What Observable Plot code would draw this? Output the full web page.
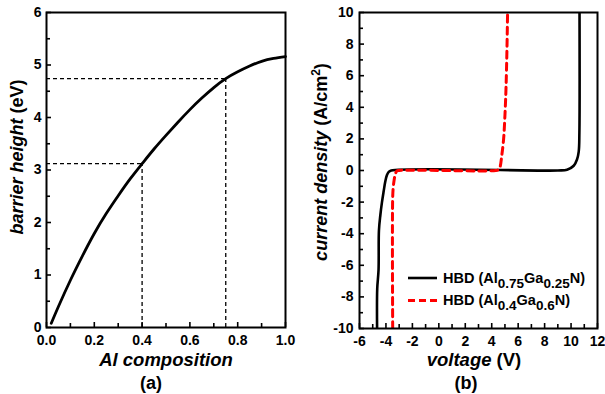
<!DOCTYPE html>
<html><head><meta charset="utf-8">
<script src="https://cdn.jsdelivr.net/npm/d3@7"></script>
<script src="https://cdn.jsdelivr.net/npm/@observablehq/plot@0.6"></script>
<style>
body{margin:0;background:#fff;}
#wrap{position:relative;width:605px;height:394px;display:flex;}
svg{display:block;overflow:visible}
</style></head><body><div id="wrap"></div>
<script>
// ---- Panel (a): barrier height vs Al composition ----
const alComp  = [0.02,0.05,0.10,0.15,0.20,0.25,0.30,0.35,0.40,0.45,0.50,0.55,0.60,0.65,0.70,0.75,0.80,0.85,0.90,0.95,1.00];
const barrier = [0.08,0.40,0.90,1.36,1.79,2.17,2.51,2.83,3.12,3.40,3.66,3.91,4.15,4.37,4.57,4.74,4.87,4.98,5.07,5.125,5.16];
const guideX = [0.40, 0.75];
const guideY = [3.12, 4.74];
const aXTicks = [0,0.2,0.4,0.6,0.8,1.0];
const aXMinor = [0.1,0.3,0.5,0.7,0.9];
const aYTicks = [0,1,2,3,4,5,6];
const aYMinor = [0.5,1.5,2.5,3.5,4.5,5.5];

// ---- Panel (b): current density vs voltage ----
const vBlack = [-4.67,-4.66,-4.56,-4.53,-4.42,-4.30,-4.17,-4.05,-3.93,-3.80,-3.60,9.0,9.7,10.2,10.45,10.58,10.63,10.64];
const jBlack = [-10,-7.5,-6.3,-3.8,-2.8,-2.0,-1.3,-0.7,-0.3,-0.1,0,0,0.05,0.3,0.7,1.2,2.4,10];
const vRed = [-3.49,-3.49,-3.44,-3.38,-3.30,-3.18,-3.0,4.3,4.5,4.62,4.76,4.9,5.0,5.08,5.15,5.2];
const jRed = [-10,-1.7,-1.0,-0.6,-0.25,-0.04,0,0,0.05,0.2,0.95,2.0,3.5,5.2,7.6,10];
const bXTicks = [-6,-4,-2,0,2,4,6,8,10,12];
const bXMinor = [-5,-3,-1,1,3,5,7,9,11];
const bYTicks = [-10,-8,-6,-4,-2,0,2,4,6,8,10];
const bYMinor = [-9,-7,-5,-3,-1,1,3,5,7,9];

const FONT = "'Liberation Sans', Arial, sans-serif";
const baseStyle = {fontFamily: FONT, fontSize: "14px", fontWeight: "bold", color: "#000", background: "#fff", overflow: "visible"};
const fmtInt = d => String(d);

const aData = alComp.map((x, i) => ({x, y: barrier[i]}));
const guides = guideX.map((x, i) => ({x, y: guideY[i]}));

const plotA = Plot.plot({
  width: 302, height: 394,
  marginLeft: 46, marginRight: 17, marginTop: 12, marginBottom: 67,
  x: {domain: [aXTicks[0], aXTicks[aXTicks.length - 1]]},
  y: {domain: [aYTicks[0], aYTicks[aYTicks.length - 1]]},
  style: baseStyle,
  marks: [
    Plot.ruleY(guides, {y: "y", x1: () => aXTicks[0], x2: "x", stroke: "#000", strokeWidth: 1.3, strokeDasharray: "4,3"}),
    Plot.ruleX(guides, {x: "x", y1: () => aYTicks[0], y2: "y", stroke: "#000", strokeWidth: 1.3, strokeDasharray: "4,3"}),
    Plot.line(aData, {x: "x", y: "y", curve: "natural", stroke: "#000", strokeWidth: 2.8}),
    Plot.axisX(aXTicks, {tickSize: -5, fill: "none", strokeWidth: 1.6}),
    Plot.axisX(aXMinor, {tickSize: -4, fill: "none", strokeWidth: 1.6}),
    Plot.axisX(aXTicks, {tickSize: 0, tickPadding: 8, tickFormat: d3.format(".1f"), label: null}),
    Plot.axisY(aYTicks, {tickSize: -5, fill: "none", strokeWidth: 1.6}),
    Plot.axisY(aYMinor, {tickSize: -4, fill: "none", strokeWidth: 1.6}),
    Plot.axisY(aYTicks, {tickSize: 0, tickPadding: 5, tickFormat: fmtInt, label: null}),
    Plot.frame({stroke: "#000", strokeWidth: 2})
  ]
});

const plotB = Plot.plot({
  width: 303, height: 394,
  marginLeft: 57, marginRight: 8, marginTop: 12, marginBottom: 66,
  x: {domain: [bXTicks[0], bXTicks[bXTicks.length - 1]]},
  y: {domain: [bYTicks[0], bYTicks[bYTicks.length - 1]]},
  style: baseStyle,
  marks: [
    Plot.line(vBlack.map((v, i) => ({v, j: jBlack[i]})), {x: "v", y: "j", curve: "catmull-rom", stroke: "#000", strokeWidth: 2.6, clip: true}),
    Plot.line(vRed.map((v, i) => ({v, j: jRed[i]})), {x: "v", y: "j", curve: "catmull-rom", stroke: "#f00", strokeWidth: 3, strokeDasharray: "7,5", clip: true}),
    Plot.axisX(bXTicks, {tickSize: -5, fill: "none", strokeWidth: 1.6}),
    Plot.axisX(bXMinor, {tickSize: -4, fill: "none", strokeWidth: 1.6}),
    Plot.axisX(bXTicks, {tickSize: 0, tickPadding: 8, tickFormat: fmtInt, label: null}),
    Plot.axisY(bYTicks, {tickSize: -5, fill: "none", strokeWidth: 1.6}),
    Plot.axisY(bYMinor, {tickSize: -4, fill: "none", strokeWidth: 1.6}),
    Plot.axisY(bYTicks, {tickSize: 0, tickPadding: 6, tickFormat: fmtInt, label: null}),
    Plot.frame({stroke: "#000", strokeWidth: 2})
  ]
});

const wrap = document.getElementById("wrap");
wrap.appendChild(plotA);
wrap.appendChild(plotB);

function addText(svg, x, y, rotate, size, parts, anchor = "middle") {
  const t = d3.select(svg).append("text")
    .attr("transform", `translate(${x},${y})` + (rotate ? ` rotate(${rotate})` : ""))
    .attr("text-anchor", anchor)
    .attr("font-family", FONT)
    .attr("font-weight", "bold")
    .attr("font-size", size)
    .attr("fill", "#000");
  for (const p of parts) {
    const s = t.append("tspan").text(p.t);
    if (p.i) s.attr("font-style", "italic");
    if (p.dy) s.attr("dy", p.dy);
    if (p.size) s.attr("font-size", p.size);
  }
  return t;
}

// Axis titles and panel captions
addText(plotA, 23, 157, -90, 18, [{t: "barrier height", i: true}, {t: " (eV)"}]);
addText(plotA, 166, 365.5, 0, 18.5, [{t: "Al composition", i: true}]);
addText(plotA, 151, 389, 0, 18, [{t: "(a)"}]);

addText(plotB, 25, 162, -90, 18, [{t: "current density", i: true}, {t: " (A/cm"}, {t: "2", dy: -7, size: 12}, {t: ")", dy: 7}]);
addText(plotB, 172, 365.5, 0, 18.5, [{t: "voltage", i: true}, {t: " (V)"}]);
addText(plotB, 164, 389, 0, 18, [{t: "(b)"}]);

// Legend
const legendItems = [
  {parts: ["HBD (Al", "0.75", "Ga", "0.25", "N)"], stroke: "#000", dash: null, width: 2.6},
  {parts: ["HBD (Al", "0.4", "Ga", "0.6", "N)"], stroke: "#f00", dash: "7,4", width: 3}
];
const lg = d3.select(plotB).append("g");
legendItems.forEach((it, k) => {
  const yy = 278 + k * 22.5;
  lg.append("line").attr("x1", 106).attr("x2", 135).attr("y1", yy).attr("y2", yy)
    .attr("stroke", it.stroke).attr("stroke-width", it.width).attr("stroke-dasharray", it.dash);
  const t = lg.append("text").attr("x", 141).attr("y", yy + 4.5)
    .attr("text-anchor", "start")
    .attr("font-family", FONT).attr("font-weight", "bold").attr("font-size", 14.5).attr("fill", "#000");
  it.parts.forEach((p, m) => {
    const s = t.append("tspan").text(p);
    if (m % 2 === 1) s.attr("font-size", 13.5).attr("dy", 5);
    else if (m > 0) s.attr("dy", -5);
  });
});
</script></body></html>
